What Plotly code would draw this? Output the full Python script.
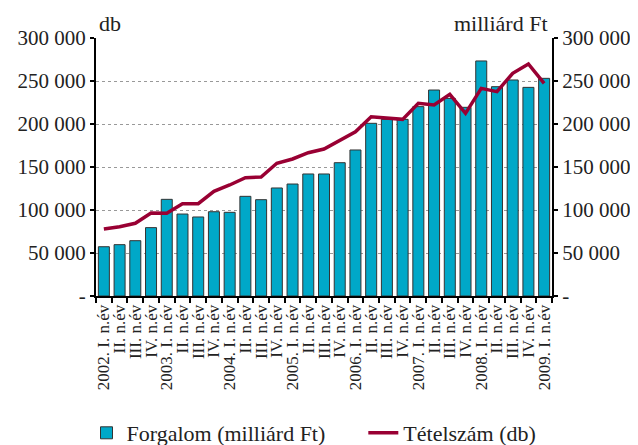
import plotly.graph_objects as go

quarters = [
    "2002Q1", "2002Q2", "2002Q3", "2002Q4",
    "2003Q1", "2003Q2", "2003Q3", "2003Q4",
    "2004Q1", "2004Q2", "2004Q3", "2004Q4",
    "2005Q1", "2005Q2", "2005Q3", "2005Q4",
    "2006Q1", "2006Q2", "2006Q3", "2006Q4",
    "2007Q1", "2007Q2", "2007Q3", "2007Q4",
    "2008Q1", "2008Q2", "2008Q3", "2008Q4",
    "2009Q1",
]

tick_labels = [
    "2002. I. n.év", "II. n.év", "III. n.év", "IV. n.év",
    "2003. I. n.év", "II. n.év", "III. n.év", "IV. n.év",
    "2004. I. n.év", "II. n.év", "III. n.év", "IV. n.év",
    "2005. I. n.év", "II. n.év", "III. n.év", "IV. n.év",
    "2006. I. n.év", "II. n.év", "III. n.év", "IV. n.év",
    "2007. I. n.év", "II. n.év", "III. n.év", "IV. n.év",
    "2008. I. n.év", "II. n.év", "III. n.év", "IV. n.év",
    "2009. I. n.év",
]

forgalom = [
    57300, 59700, 64300, 79500, 112400, 95300, 91900, 98000, 97300,
    115900, 112000, 125600, 130200, 141900, 141900, 155000, 169800,
    200800, 205400, 205400, 220200, 239500, 229800, 219400, 273300,
    243400, 251200, 242600, 253100,
]

tetelszam = [
    77900, 80600, 84500, 96500, 96100, 107300, 107300, 121700, 129100,
    137600, 138400, 154300, 159300, 166600, 170900, 181400, 191000,
    208500, 206600, 205400, 224000, 222100, 234500, 212400, 241400,
    237600, 259000, 269800, 247300,
]

tick_vals = [0, 50000, 100000, 150000, 200000, 250000, 300000]
tick_text = ["-", "50 000", "100 000", "150 000", "200 000", "250 000", "300 000"]

FONT = "Liberation Serif, Times New Roman, serif"
TXT = "#222222"
NBSP = "\u00a0"

# page body has an 8px margin, so the figure is sized to fill the window from (8, 8)
W, H = 630, 437

fig = go.Figure()
fig.add_trace(go.Bar(
    x=quarters, y=forgalom, name="Forgalom (milliárd Ft)" + NBSP * 6,
    marker=dict(color="#00A8C8", line=dict(color="#333333", width=1)),
    yaxis="y",
))
fig.add_trace(go.Scatter(
    x=quarters, y=tetelszam, name="Tételszám (db)", mode="lines",
    line=dict(color="#990033", width=3.5),
    yaxis="y2",
))

axis_common = dict(
    range=[0, 300000], tickvals=tick_vals, ticktext=tick_text,
    showline=True, linecolor="black", linewidth=2,
    ticks="outside", ticklen=4, tickwidth=2, tickcolor="black",
    zeroline=False, automargin=False,
    tickfont=dict(family=FONT, size=21, color=TXT),
)

fig.update_layout(
    width=W, height=H,
    margin=dict(l=88, r=86, t=30, b=149),
    paper_bgcolor="white", plot_bgcolor="white",
    font=dict(family=FONT, color=TXT),
    bargap=0.3,
    showlegend=True,
    legend=dict(orientation="h", xref="container", yref="container",
                x=306 / W, xanchor="center", y=1 - 425 / H, yanchor="middle",
                font=dict(family=FONT, size=22, color=TXT),
                itemwidth=30, tracegroupgap=0),
    xaxis=dict(
        type="category", showline=True, linecolor="black", linewidth=2,
        ticks="outside", tickson="boundaries", ticklen=5, tickwidth=2, tickcolor="black",
        tickmode="array", tickvals=quarters, ticktext=tick_labels,
        tickangle=-90, tickfont=dict(family=FONT, size=17, color=TXT),
        showgrid=False, automargin=False,
    ),
    yaxis=dict(**axis_common, side="left", showgrid=True,
               gridcolor="#999999", griddash="dot", gridwidth=1),
    yaxis2=dict(**axis_common, side="right", overlaying="y", showgrid=False),
    annotations=[
        dict(text="db", x=0, xref="paper", xanchor="left", xshift=1,
             y=1, yref="paper", yanchor="bottom", yshift=0, showarrow=False,
             font=dict(family=FONT, size=22, color=TXT)),
        dict(text="milliárd Ft", x=1, xref="paper", xanchor="right", xshift=-2,
             y=1, yref="paper", yanchor="bottom", yshift=0, showarrow=False,
             font=dict(family=FONT, size=22, color=TXT)),
    ],
)

fig.write_html("out.html")
